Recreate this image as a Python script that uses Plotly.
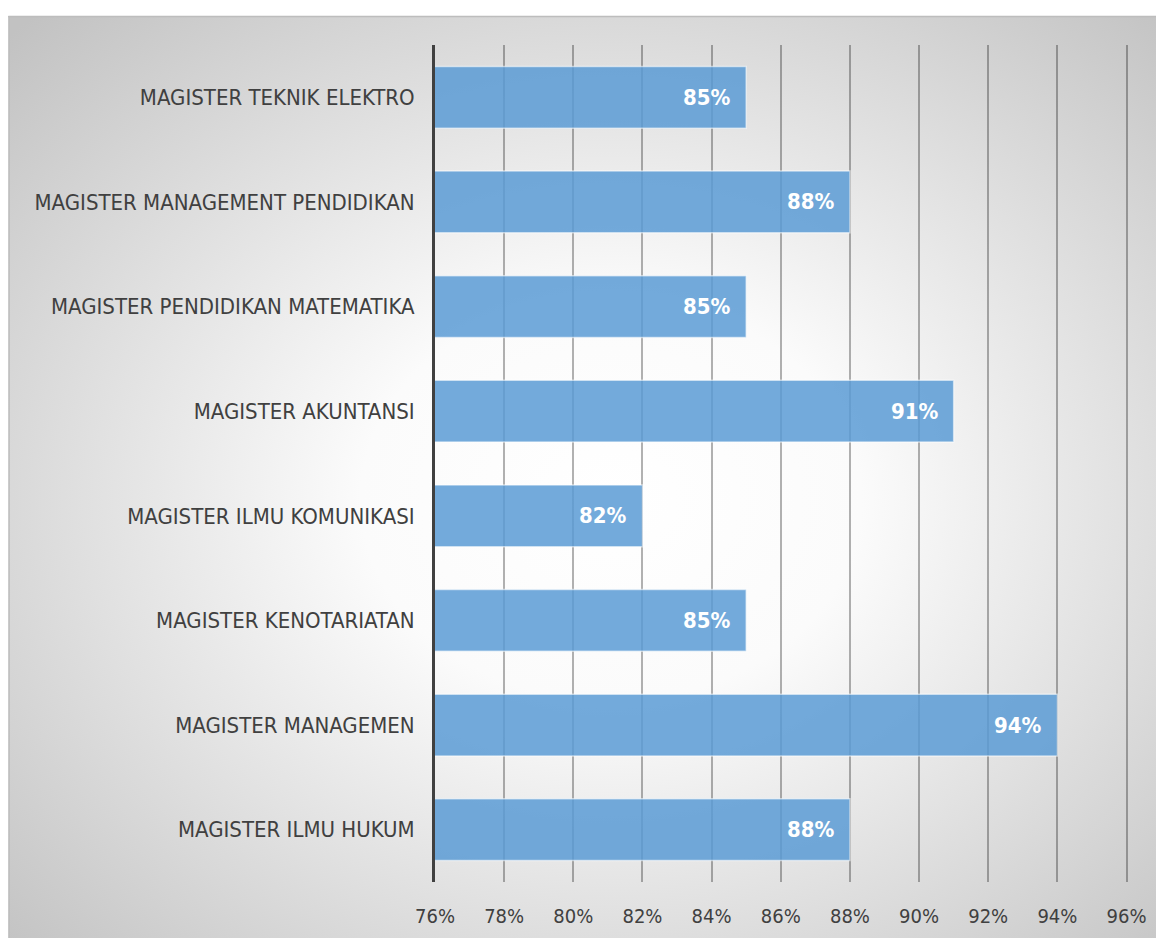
import base64
import plotly.graph_objects as go

categories = [
    "MAGISTER TEKNIK ELEKTRO",
    "MAGISTER MANAGEMENT PENDIDIKAN",
    "MAGISTER PENDIDIKAN MATEMATIKA",
    "MAGISTER AKUNTANSI",
    "MAGISTER ILMU KOMUNIKASI",
    "MAGISTER KENOTARIATAN",
    "MAGISTER MANAGEMEN",
    "MAGISTER ILMU HUKUM",
]
values = [85, 88, 85, 91, 82, 85, 94, 88]
tick_values = [76, 78, 80, 82, 84, 86, 88, 90, 92, 94, 96]
tick_labels = [f"{t}%" for t in tick_values]
bar_labels = [f"{v}%" for v in values]

W, H = 1164, 938
X0, X1 = 76, 96.1
PXPER = 34.6
L, T, B = 427, 37, 874
R = L + (X1 - X0) * PXPER
PW, PH = R - L, B - T

FONT = "Liberation Sans Narrow, DejaVu Sans Condensed, Arial Narrow, sans-serif"

bw, bh = 1160, 930
svg = (
    f'<svg xmlns="http://www.w3.org/2000/svg" width="{bw}" height="{bh}" '
    f'viewBox="0 0 {bw} {bh}" preserveAspectRatio="none">'
    '<defs><radialGradient id="g" cx="0.52" cy="0.52" r="0.72">'
    '<stop offset="0" stop-color="#ffffff"/>'
    '<stop offset="0.3" stop-color="#fbfbfb"/>'
    '<stop offset="1" stop-color="#c2c2c2"/>'
    '</radialGradient></defs>'
    f'<rect width="{bw}" height="{bh}" fill="url(#g)"/></svg>'
)
src = "data:image/svg+xml;base64," + base64.b64encode(svg.encode()).decode()


def px_x(p):
    return (p - L) / PW


def px_y(p):
    return (B - p) / PH


fig = go.Figure()
fig.add_trace(
    go.Bar(
        x=values,
        y=categories,
        orientation="h",
        marker=dict(
            color="rgba(91,155,213,0.85)",
            line=dict(color="rgba(255,255,255,0.55)", width=1.5),
        ),
        hoverinfo="skip",
    )
)

annotations = [
    dict(
        x=v, y=c, xref="x", yref="y", text=t, showarrow=False,
        xanchor="right", yanchor="middle", xshift=-13,
        font=dict(color="white", size=22, family=FONT, weight="bold"),
    )
    for v, c, t in zip(values, categories, bar_labels)
]

fig.update_layout(
    width=W,
    height=H,
    margin=dict(l=L, r=W - R, t=T, b=H - B),
    paper_bgcolor="white",
    plot_bgcolor="rgba(0,0,0,0)",
    bargap=0.41,
    showlegend=False,
    annotations=annotations,
    images=[
        dict(
            source=src,
            xref="paper",
            yref="paper",
            x=px_x(0),
            y=px_y(8),
            sizex=bw / PW,
            sizey=bh / PH,
            xanchor="left",
            yanchor="top",
            sizing="stretch",
            layer="below",
        )
    ],
    shapes=[
        dict(
            type="line", xref="paper", yref="paper",
            x0=px_x(0), x1=px_x(W + 5), y0=px_y(8.5), y1=px_y(8.5),
            line=dict(color="#bdbdbd", width=1.5), layer="below",
        ),
        dict(
            type="line", xref="paper", yref="paper",
            x0=px_x(0.8), x1=px_x(0.8), y0=px_y(8), y1=px_y(H + 5),
            line=dict(color="#bdbdbd", width=1.5), layer="below",
        ),
    ],
    xaxis=dict(
        range=[X0, X1],
        tickmode="array",
        tickvals=tick_values,
        ticktext=tick_labels,
        showgrid=True,
        gridcolor="rgba(0,0,0,0.3)",
        gridwidth=1.5,
        zeroline=False,
        showline=False,
        ticks="",
        ticklabelstandoff=20,
        tickfont=dict(family=FONT, size=20, color="#404040"),
        fixedrange=True,
    ),
    yaxis=dict(
        autorange="reversed",
        showgrid=False,
        showline=True,
        linecolor="#404040",
        linewidth=3,
        ticks="",
        ticklabelstandoff=13,
        tickfont=dict(family=FONT, size=22, color="#404040"),
        fixedrange=True,
    ),
)

fig.write_html("out.html")
